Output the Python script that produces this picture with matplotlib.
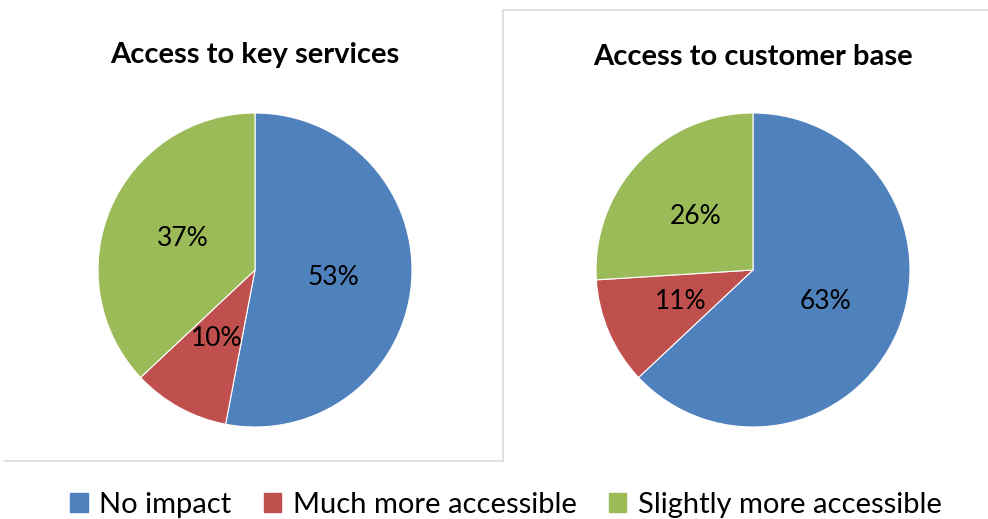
import matplotlib.pyplot as plt
from matplotlib.patches import Patch
from matplotlib.lines import Line2D

# data
categories = ['No impact', 'Much more accessible', 'Slightly more accessible']
key_services = [53, 10, 37]
customer_base = [63, 11, 26]
titles = ['Access to key services', 'Access to customer base']
colors = ['#4F81BD', '#C0504D', '#9BBB59']

W, H = 988, 519
plt.rcParams['font.family'] = ['Lato', 'DejaVu Sans']

fig = plt.figure(figsize=(W / 100, H / 100), dpi=100)


def px_axes(cx, cy, r):
    # axes box (square in pixels) centred on a pie centre given in image pixels
    return fig.add_axes([(cx - r) / W, (H - cy - r) / H, 2 * r / W, 2 * r / H])


def fx(x):
    return x / W


def fy(y):
    return 1 - y / H


# panel borders (light grey frame of each chart area)
grey = '#d9d9d9'
fig.add_artist(Line2D([fx(5), fx(503)], [fy(461), fy(461)], color=grey, lw=1.2))
fig.add_artist(Line2D([fx(503), fx(503)], [fy(10), fy(461)], color=grey, lw=1.2))
fig.add_artist(Line2D([fx(503), fx(988)], [fy(10), fy(10)], color=grey, lw=1.2))

centres = [(255, 270), (753, 270)]
title_y = [55, 57]
for (cx, cy), vals, title, ty in zip(centres, [key_services, customer_base], titles, title_y):
    ax = px_axes(cx, cy, 157)
    ax.pie(vals, colors=colors, startangle=90, counterclock=False,
           autopct=lambda p: '%d%%' % round(p), pctdistance=0.5,
           wedgeprops=dict(linewidth=0.8, edgecolor='white'),
           textprops=dict(fontsize=19, color='black'))
    ax.set_xlim(-1, 1)
    ax.set_ylim(-1, 1)
    fig.text(fx(cx), fy(ty), title, ha='center', va='center',
             fontsize=21, fontweight='bold')

handles = [Patch(facecolor=c, edgecolor=c) for c in colors]
fig.legend(handles, categories, loc='center', bbox_to_anchor=(0.512, fy(505)),
           ncol=3, frameon=False, fontsize=21, handlelength=0.6, handleheight=0.6,
           handletextpad=0.4, columnspacing=1.1)

fig.savefig('out.png', dpi=100)
